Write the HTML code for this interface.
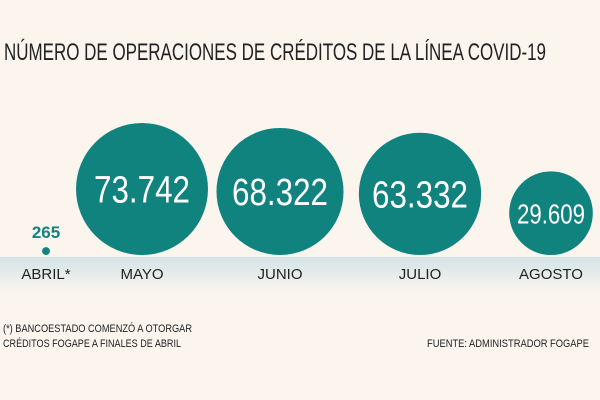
<!DOCTYPE html>
<html><head><meta charset="utf-8"><style>
html,body{margin:0;padding:0;background:#fcf5ee;}
svg{display:block;font-family:"Liberation Sans",sans-serif;}
</style></head><body>
<svg width="600" height="400" viewBox="0 0 600 400">
<defs><linearGradient id="band" x1="0" y1="0" x2="0" y2="1">
<stop offset="0" stop-color="#d3e3e6"/><stop offset="1" stop-color="#fcf5ee"/></linearGradient></defs>
<rect width="600" height="400" fill="#fcf5ee"/>
<text x="4" y="60" font-size="24" fill="#222" textLength="542" lengthAdjust="spacingAndGlyphs">NÚMERO DE OPERACIONES DE CRÉDITOS DE LA LÍNEA COVID-19</text>
<rect x="0" y="257" width="600" height="36" fill="url(#band)"/>
<g id="marks"></g>
<text x="3" y="332" font-size="11" fill="#222" textLength="189" lengthAdjust="spacingAndGlyphs">(*) BANCOESTADO COMENZÓ A OTORGAR</text>
<text x="3" y="347" font-size="11" fill="#222" textLength="178" lengthAdjust="spacingAndGlyphs">CRÉDITOS FOGAPE A FINALES DE ABRIL</text>
<text x="589" y="347" font-size="11" fill="#222" text-anchor="end" textLength="162" lengthAdjust="spacingAndGlyphs">FUENTE: ADMINISTRADOR FOGAPE</text>
</svg>
<script>
const categories = ["ABRIL*","MAYO","JUNIO","JULIO","AGOSTO"];
const values = [265,73742,68322,63332,29609];
const valueLabels = ["265","73.742","68.322","63.332","29.609"];
const xCenters = [46,142,280,420,551];
const baseY = 255;
function rScale(v){return 0.243*Math.sqrt(v);}
const NS="http://www.w3.org/2000/svg";
const g=document.getElementById('marks');
categories.forEach((c,i)=>{
  const r=rScale(values[i]);
  const x=xCenters[i];
  const cy=baseY-r;
  const circ=document.createElementNS(NS,'circle');
  circ.setAttribute('cx',x);circ.setAttribute('cy',cy);circ.setAttribute('r',r);
  circ.setAttribute('fill','#11837f');
  
  
  g.appendChild(circ);
  const t=document.createElementNS(NS,'text');
  if(r>20){
    const fs=r>50?38:28;
    t.setAttribute('x',x);t.setAttribute('y',cy+fs*0.36);
    t.setAttribute('font-size',fs);t.setAttribute('fill','#fff');
    t.setAttribute('textLength', r>50?96:68);t.setAttribute('lengthAdjust','spacingAndGlyphs');
  }else{
    t.setAttribute('x',x);t.setAttribute('y',cy-r-9);
    t.setAttribute('font-size',17);t.setAttribute('fill','#11837f');t.setAttribute('font-weight','bold');
  }
  t.setAttribute('text-anchor','middle');
  t.textContent=valueLabels[i];
  
  
  g.appendChild(t);
  const l=document.createElementNS(NS,'text');
  l.setAttribute('x',x);l.setAttribute('y',279);l.setAttribute('font-size',15);
  l.setAttribute('fill','#222');l.setAttribute('text-anchor','middle');
  l.textContent=c;
  
  
  g.appendChild(l);
});
</script>
</body></html>
